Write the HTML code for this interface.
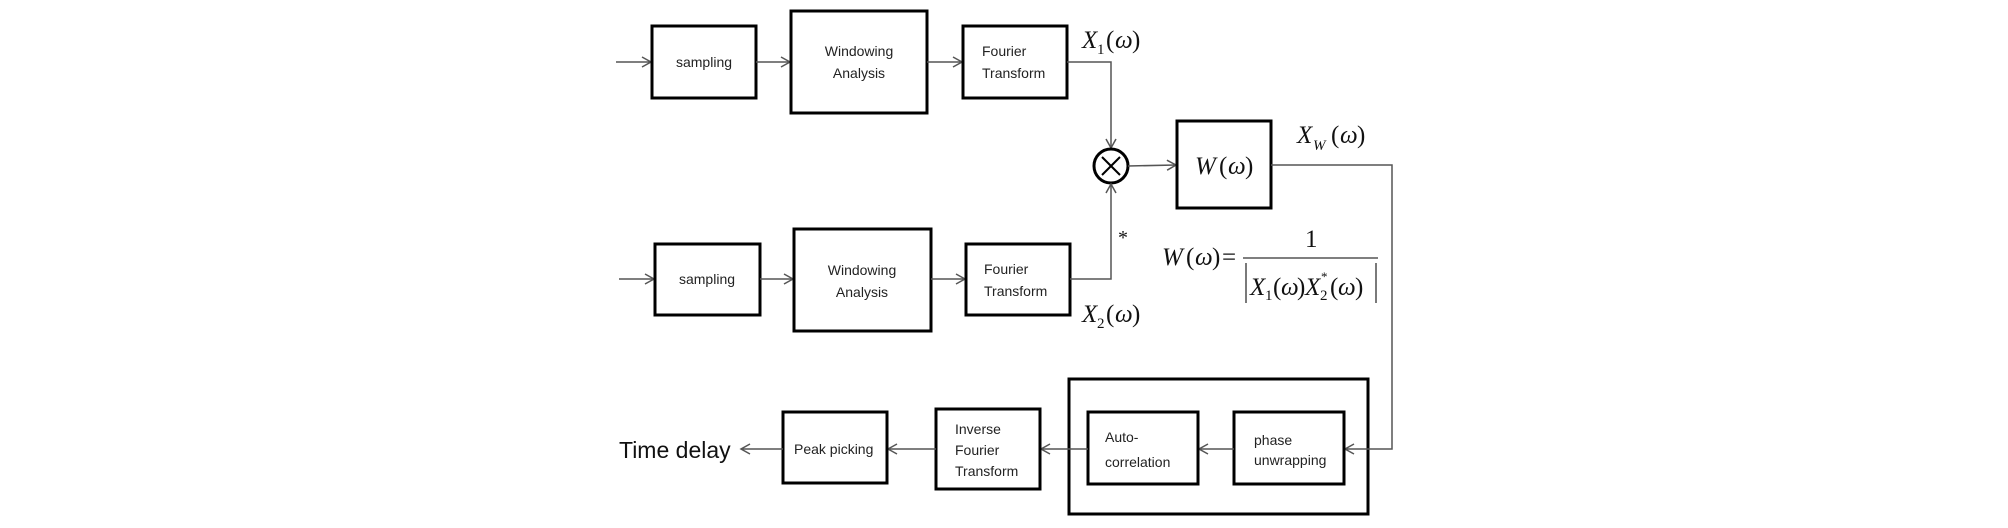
<!DOCTYPE html>
<html><head><meta charset="utf-8"><style>
html,body{margin:0;padding:0;background:#fff;}
svg{display:block;}
.b{fill:#fff;stroke:#000;stroke-width:3;}
.l{fill:none;stroke:#555;stroke-width:1.5;}
.t{font-family:"Liberation Sans",sans-serif;font-size:14px;fill:#222;}
.m{font-family:"Liberation Serif",serif;font-style:italic;font-size:25px;fill:#111;}
.n{font-family:"Liberation Serif",serif;font-size:25px;fill:#111;}
</style></head><body>
<svg width="2008" height="528" viewBox="0 0 2008 528" xmlns="http://www.w3.org/2000/svg">
<defs><marker id="a" markerWidth="12" markerHeight="12" refX="10" refY="6" orient="auto" markerUnits="userSpaceOnUse"><path d="M1,1 L10,6 L1,11" fill="none" stroke="#555" stroke-width="1.5"/></marker></defs>
<!-- top row -->
<line class="l" x1="616" y1="62" x2="651" y2="62" marker-end="url(#a)"/>
<rect class="b" x="652" y="26" width="104" height="72"/>
<text class="t" x="704" y="67" text-anchor="middle">sampling</text>
<line class="l" x1="756" y1="62" x2="790" y2="62" marker-end="url(#a)"/>
<rect class="b" x="791" y="11" width="136" height="102"/>
<text class="t" x="859" y="56" text-anchor="middle">Windowing</text>
<text class="t" x="859" y="78" text-anchor="middle">Analysis</text>
<line class="l" x1="927" y1="62" x2="962" y2="62" marker-end="url(#a)"/>
<rect class="b" x="963" y="26" width="104" height="72"/>
<text class="t" x="982" y="56">Fourier</text>
<text class="t" x="982" y="78">Transform</text>
<text class="m" x="1082" y="48">X</text><text class="n" x="1097" y="54" style="font-size:15px">1</text><text class="n" x="1106" y="48">(</text><text class="m" x="1115" y="48">ω</text><text class="n" x="1132" y="48">)</text>
<polyline class="l" points="1067,62 1111,62 1111,148" marker-end="url(#a)"/>
<!-- multiplier -->
<circle cx="1111" cy="166" r="17" fill="#fff" stroke="#000" stroke-width="3"/>
<line x1="1102" y1="157" x2="1120" y2="175" stroke="#000" stroke-width="2"/>
<line x1="1120" y1="157" x2="1102" y2="175" stroke="#000" stroke-width="2"/>
<line class="l" x1="1128" y1="166" x2="1176" y2="165" marker-end="url(#a)"/>
<rect class="b" x="1177" y="121" width="94" height="87"/>
<text class="m" x="1195" y="174">W</text><text class="n" x="1219" y="174">(</text><text class="m" x="1228" y="174">ω</text><text class="n" x="1245" y="174">)</text>
<text class="m" x="1297" y="143">X</text><text class="m" x="1313" y="150" style="font-size:15px">W</text><text class="n" x="1331" y="143">(</text><text class="m" x="1340" y="143">ω</text><text class="n" x="1357" y="143">)</text>
<!-- second row -->
<line class="l" x1="619" y1="279" x2="654" y2="279" marker-end="url(#a)"/>
<rect class="b" x="655" y="244" width="105" height="71"/>
<text class="t" x="707" y="284" text-anchor="middle">sampling</text>
<line class="l" x1="760" y1="279" x2="793" y2="279" marker-end="url(#a)"/>
<rect class="b" x="794" y="229" width="137" height="102"/>
<text class="t" x="862" y="275" text-anchor="middle">Windowing</text>
<text class="t" x="862" y="297" text-anchor="middle">Analysis</text>
<line class="l" x1="931" y1="279" x2="965" y2="279" marker-end="url(#a)"/>
<rect class="b" x="966" y="244" width="104" height="71"/>
<text class="t" x="984" y="274">Fourier</text>
<text class="t" x="984" y="296">Transform</text>
<polyline class="l" points="1070,279 1111,279 1111,184" marker-end="url(#a)"/>
<text class="n" x="1118" y="244" style="font-size:20px">*</text>
<text class="m" x="1082" y="322">X</text><text class="n" x="1097" y="328" style="font-size:15px">2</text><text class="n" x="1106" y="322">(</text><text class="m" x="1115" y="322">ω</text><text class="n" x="1132" y="322">)</text>
<!-- formula -->
<text class="m" x="1162" y="265">W</text><text class="n" x="1186" y="265">(</text><text class="m" x="1195" y="265">ω</text><text class="n" x="1212" y="265">)</text><text class="n" x="1222" y="265">=</text>
<text class="n" x="1305" y="247">1</text>
<line x1="1243" y1="258" x2="1378" y2="258" stroke="#333" stroke-width="1.3"/>
<line x1="1246" y1="263" x2="1246" y2="303" stroke="#333" stroke-width="1.3"/>
<line x1="1376" y1="263" x2="1376" y2="303" stroke="#333" stroke-width="1.3"/>
<text class="m" x="1250" y="295">X</text><text class="n" x="1265" y="300" style="font-size:15px">1</text><text class="n" x="1273" y="295">(</text><text class="m" x="1281" y="295">ω</text><text class="n" x="1297" y="295">)</text>
<text class="m" x="1305" y="295">X</text><text class="n" x="1321" y="281" style="font-size:13px">*</text><text class="n" x="1320" y="300" style="font-size:15px">2</text><text class="n" x="1330" y="295">(</text><text class="m" x="1338" y="295">ω</text><text class="n" x="1355" y="295">)</text>
<!-- bottom row -->
<rect class="b" x="1069" y="379" width="299" height="135"/>
<polyline class="l" points="1271,165 1392,165 1392,449 1345,449" marker-end="url(#a)"/>
<rect class="b" x="1234" y="412" width="110" height="72"/>
<text class="t" x="1254" y="445">phase</text>
<text class="t" x="1254" y="465">unwrapping</text>
<line class="l" x1="1234" y1="449" x2="1199" y2="449" marker-end="url(#a)"/>
<rect class="b" x="1088" y="412" width="110" height="72"/>
<text class="t" x="1105" y="442">Auto-</text>
<text class="t" x="1105" y="467">correlation</text>
<line class="l" x1="1088" y1="449" x2="1041" y2="449" marker-end="url(#a)"/>
<rect class="b" x="936" y="409" width="104" height="80"/>
<text class="t" x="955" y="434">Inverse</text>
<text class="t" x="955" y="455">Fourier</text>
<text class="t" x="955" y="476">Transform</text>
<line class="l" x1="936" y1="449" x2="888" y2="449" marker-end="url(#a)"/>
<rect class="b" x="783" y="412" width="104" height="71"/>
<text class="t" x="794" y="454">Peak picking</text>
<line class="l" x1="783" y1="449" x2="741" y2="449" marker-end="url(#a)"/>
<text x="619" y="458" style="font-family:'Liberation Sans',sans-serif;font-size:23px;fill:#111">Time  delay</text>
</svg>
</body></html>
